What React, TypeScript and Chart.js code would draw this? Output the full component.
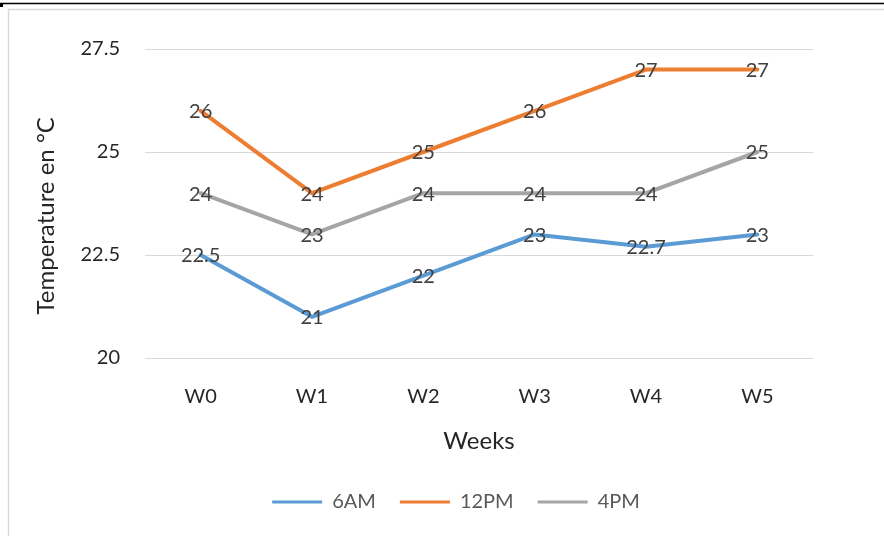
import React, { useEffect, useRef } from "react";
import { Chart, registerables } from "chart.js";

Chart.register(...registerables);

// ---- data ----
const weeks = ["W0", "W1", "W2", "W3", "W4", "W5"];
const seriesNames = ["6AM", "12PM", "4PM"];
const temp6AM = [22.5, 21, 22, 23, 22.7, 23];
const temp12PM = [26, 24, 25, 26, 27, 27];
const temp4PM = [24, 23, 24, 24, 24, 25];
const yTicks = [20, 22.5, 25, 27.5];
const xTitle = "Weeks";
const yTitle = "Temperature en °C";

// ---- styles ----
const COLORS = ["#5B9BD5", "#ED7D31", "#A5A5A5"];
const FONT = "Lato, 'Open Sans', sans-serif";
const W = 884;
const H = 536;

const framePlugin = {
  id: "frame",
  beforeDraw(chart: any) {
    const { ctx } = chart;
    ctx.save();
    ctx.fillStyle = "#ffffff";
    ctx.fillRect(0, 0, chart.width, chart.height);
    ctx.strokeStyle = "#000000";
    ctx.lineWidth = 1.5;
    ctx.beginPath();
    ctx.moveTo(0, 3.5);
    ctx.lineTo(chart.width, 3.5);
    ctx.stroke();
    ctx.fillStyle = "#000000";
    ctx.fillRect(0, 3, 3, 4);
    ctx.strokeStyle = "#d9d9d9";
    ctx.lineWidth = 1.5;
    ctx.beginPath();
    ctx.moveTo(8.5, chart.height + 5);
    ctx.lineTo(8.5, 9.5);
    ctx.lineTo(chart.width + 5, 9.5);
    ctx.stroke();
    ctx.restore();
  },
};

const legendShiftPlugin = {
  id: "legendShift",
  afterLayout(chart: any) {
    const lg = chart.legend;
    if (!lg) return;
    const target = 456;
    const d = target - (lg.left + lg.right) / 2;
    lg.left += d;
    lg.right += d;
  },
};

const dataLabelPlugin = {
  id: "dataLabels",
  afterDatasetsDraw(chart: any) {
    const { ctx } = chart;
    ctx.save();
    ctx.font = `20px ${FONT}`;
    ctx.fillStyle = "#404040";
    ctx.textAlign = "center";
    ctx.textBaseline = "middle";
    chart.data.datasets.forEach((ds: any, i: number) => {
      const meta = chart.getDatasetMeta(i);
      meta.data.forEach((pt: any, j: number) => {
        ctx.fillText(String(ds.data[j]), pt.x, pt.y + 1);
      });
    });
    ctx.restore();
  },
};

export default function App() {
  const ref = useRef<HTMLCanvasElement | null>(null);

  useEffect(() => {
    document.body.style.margin = "0";
    const canvas = ref.current;
    if (!canvas) return;
    const seriesData = [temp6AM, temp12PM, temp4PM];
    const chart = new Chart(canvas, {
      type: "line",
      data: {
        labels: weeks,
        datasets: seriesNames.map((name, i) => ({
          label: name,
          data: seriesData[i],
          borderColor: COLORS[i],
          backgroundColor: COLORS[i],
          borderWidth: 4,
          pointRadius: 0,
          borderJoinStyle: "round" as const,
          borderCapStyle: "round" as const,
          tension: 0,
        })),
      },
      options: {
        responsive: false,
        animation: false,
        devicePixelRatio: 1,
        layout: { padding: { left: 0, right: 71, top: 49, bottom: 14 } },
        scales: {
          x: {
            offset: true,
            grid: { display: false, drawTicks: false },
            border: { display: false },
            ticks: { padding: 27, color: "#262626", font: { family: FONT, size: 20 } },
            title: {
              display: true,
              text: xTitle,
              color: "#262626",
              font: { family: FONT, size: 24 },
              padding: { top: 0, bottom: 12 },
            },
            afterFit(scale: any) {
              scale.height = 110;
            },
          },
          y: {
            min: 20,
            max: 27.5,
            afterBuildTicks(scale: any) {
              scale.ticks = yTicks.map((v) => ({ value: v }));
            },
            grid: { color: "#d9d9d9", lineWidth: 1, drawTicks: false },
            border: { display: false },
            ticks: { padding: 25, color: "#262626", font: { family: FONT, size: 20 } },
            title: {
              display: true,
              text: yTitle + "    ",
              color: "#262626",
              font: { family: FONT, size: 24 },
              padding: { top: 32, bottom: 0 },
            },
            afterFit(scale: any) {
              scale.width = 145;
            },
          },
        },
        plugins: {
          legend: {
            position: "bottom",
            labels: {
              usePointStyle: true,
              pointStyle: "line",
              pointStyleWidth: 50,
              padding: 24,
              color: "#595959",
              font: { family: FONT, size: 20 },
              generateLabels(c: any) {
                return c.data.datasets.map((ds: any, i: number) => ({
                  text: ds.label,
                  fillStyle: ds.borderColor,
                  strokeStyle: ds.borderColor,
                  lineWidth: 3,
                  lineCap: "butt",
                  pointStyle: "line",
                  hidden: false,
                  datasetIndex: i,
                  fontColor: "#595959",
                }));
              },
            },
          },
          tooltip: { enabled: false },
        },
      },
      plugins: [framePlugin, legendShiftPlugin, dataLabelPlugin],
    } as any);
    return () => chart.destroy();
  }, []);

  return (
    <div style={{ width: W, height: H, position: "relative" }}>
      <canvas ref={ref} width={W} height={H} style={{ display: "block" }} />
    </div>
  );
}
